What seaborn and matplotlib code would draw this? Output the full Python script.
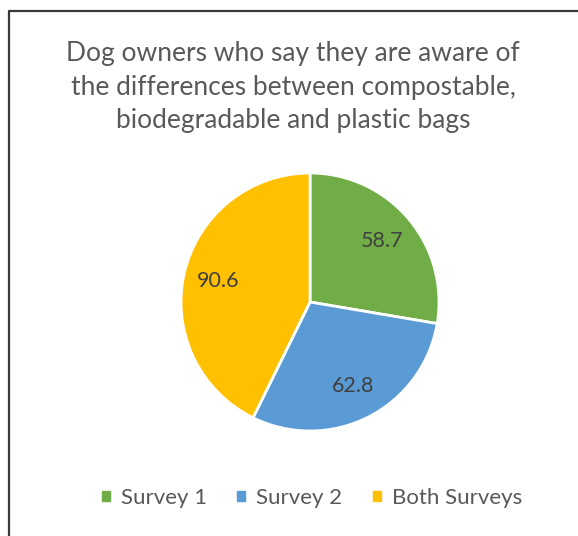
import matplotlib
matplotlib.use("Agg")
import matplotlib.pyplot as plt
from matplotlib.lines import Line2D
from matplotlib.patches import Rectangle
import seaborn as sns

categories = ["Survey 1", "Survey 2", "Both Surveys"]
values = [58.7, 62.8, 90.6]
colors = ["#70AD47", "#5B9BD5", "#FFC000"]
title = "Dog owners who say they are aware of\nthe differences between compostable,\nbiodegradable and plastic bags"

sns.set_theme(style="white")
plt.rcParams["font.family"] = ["Lato", "DejaVu Sans"]

W, H = 578, 536
fig = plt.figure(figsize=(W / 100, H / 100), dpi=100)
fig.patch.set_facecolor("white")

# chart frame (top and left edges)
fig.add_artist(Line2D([9 / W, 1.0], [1 - 11 / H, 1 - 11 / H], color="#3a3a3a", lw=1.6))
fig.add_artist(Line2D([9 / W, 9 / W], [1 - 11 / H, 0], color="#3a3a3a", lw=1.6))

# title
fig.text(293 / W, 1 - 87 / H, title, ha="center", va="center",
         fontsize=19, color="#595959", linespacing=1.42)

# pie
cx, cy, r = 310, 302, 129
ax = fig.add_axes([(cx - r) / W, (H - cy - r) / H, 2 * r / W, 2 * r / H])
total = sum(values)
wedges, texts, autotexts = ax.pie(
    values, colors=colors, startangle=90, counterclock=False,
    autopct=lambda p: f"{p * total / 100:.1f}", pctdistance=0.73,
    wedgeprops=dict(edgecolor="white", linewidth=2),
    textprops=dict(fontsize=15.5, color="#404040"))
ax.set_xlim(-1, 1)
ax.set_ylim(-1, 1)
ax.set_aspect("equal")
ax.axis("off")

# legend
handles = [Rectangle((0, 0), 1, 1, color=c) for c in colors]
fig.legend(handles, categories, loc="center", bbox_to_anchor=(312 / W, 1 - 498 / H),
           ncol=3, frameon=False, fontsize=16, labelcolor="#595959",
           handlelength=0.36, handleheight=0.36, handletextpad=0.5,
           columnspacing=1.35, borderpad=0)

fig.savefig("out.png", dpi=100, facecolor="white")
